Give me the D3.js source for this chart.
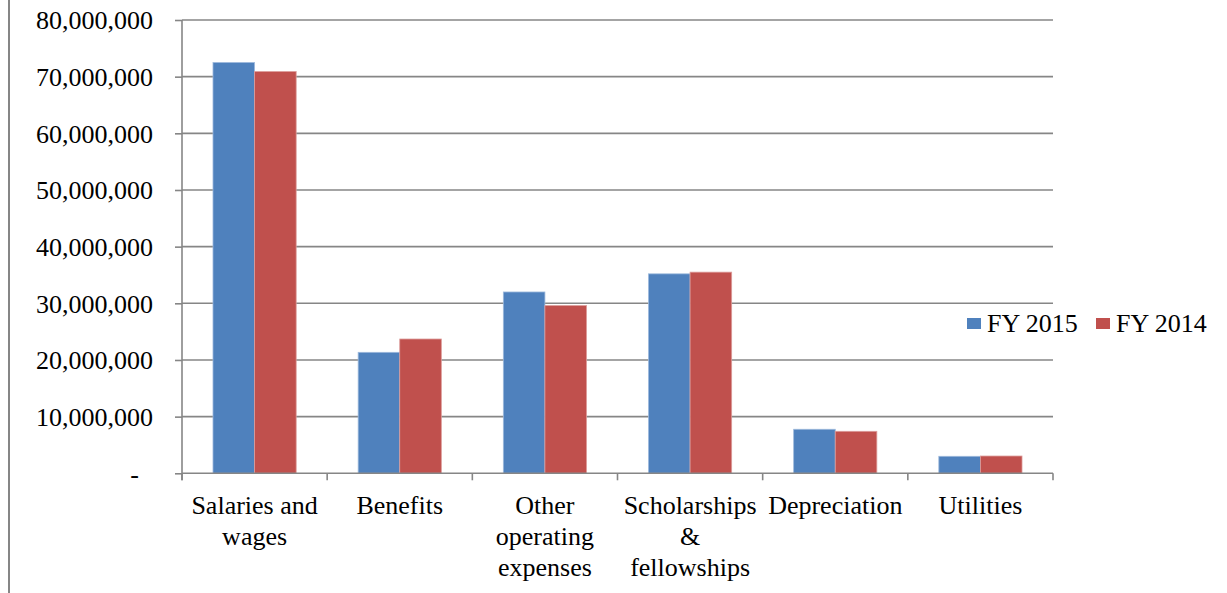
<!DOCTYPE html>
<html>
<head>
<meta charset="utf-8">
<script src="https://cdn.jsdelivr.net/npm/d3@7"></script>
<style>
  body { margin: 0; background: #fff; }
  text { font-family: "Liberation Serif", "Times New Roman", serif; fill: #000; }
</style>
</head>
<body>
<div id="chart"></div>
<script>
// chart data
var categories = [["Salaries and", "wages"], ["Benefits"], ["Other", "operating", "expenses"],
                  ["Scholarships", "&", "fellowships"], ["Depreciation"], ["Utilities"]];
var seriesNames = ["FY 2015", "FY 2014"];
var fy2015 = [72500000, 21350000, 32000000, 35200000, 7770000, 3000000];
var fy2014 = [70900000, 23700000, 29600000, 35500000, 7410000, 3050000];
var yTicks = [0, 10000000, 20000000, 30000000, 40000000, 50000000, 60000000, 70000000, 80000000];
var colors = ["#4F81BD", "#C0504D"];

var W = 1227, H = 593;
var plotLeft = 182, plotRight = 1053, plotTop = 20, plotBottom = 473.3;

var svg = d3.select("#chart").append("svg")
    .attr("width", W).attr("height", H);

// left border of the chart area
svg.append("line")
    .attr("x1", 9).attr("x2", 9).attr("y1", 0).attr("y2", H)
    .attr("stroke", "#868686").attr("stroke-width", 2);

var keys = categories.map(function(c) { return c.join(" "); });
var data = keys.map(function(k, i) { return {key: k, values: [fy2015[i], fy2014[i]]}; });

var step = (plotRight - plotLeft) / keys.length;
var gap = 0.427;
var x = d3.scaleBand().domain(keys).range([plotLeft, plotRight])
    .paddingInner(gap).paddingOuter(gap / 2);
var xs = d3.scaleBand().domain(seriesNames).range([0, x.bandwidth()]);
var y = d3.scaleLinear().domain([0, 80000000]).range([plotBottom, plotTop]);

// gridlines
svg.append("g").selectAll("line").data(yTicks.slice(1)).enter().append("line")
    .attr("x1", plotLeft).attr("x2", plotRight)
    .attr("y1", function(d) { return y(d); }).attr("y2", function(d) { return y(d); })
    .attr("stroke", "#868686").attr("stroke-width", 1.6);

// y axis
var yAxis = d3.axisLeft(y).tickValues(yTicks).tickSize(7).tickPadding(22)
    .tickFormat(function(d) { return d === 0 ? "-" : d3.format(",")(d); });
var gy = svg.append("g").attr("transform", "translate(" + plotLeft + ",0)").call(yAxis);
gy.select(".domain").remove();
gy.append("line").attr("x1", 0).attr("x2", 0).attr("y1", plotTop).attr("y2", plotBottom + 7)
    .attr("stroke", "#868686").attr("stroke-width", 1.6);
gy.selectAll(".tick line").attr("stroke", "#868686").attr("stroke-width", 1.6);
gy.selectAll(".tick text")
    .style("font-size", "26px")
    .attr("fill", "#000")
    .attr("dy", "0.34em")
    .attr("dx", function(d) { return d === 0 ? -14 : 0; });

// bars
var groups = svg.append("g").selectAll("g").data(data).enter().append("g")
    .attr("transform", function(d) { return "translate(" + x(d.key) + ",0)"; });
groups.selectAll("rect").data(function(d) {
        return d.values.map(function(v, i) { return {s: seriesNames[i], v: v, i: i}; });
    }).enter().append("rect")
    .attr("x", function(d) { return xs(d.s); })
    .attr("width", xs.bandwidth())
    .attr("y", function(d) { return y(d.v); })
    .attr("height", function(d) { return plotBottom - y(d.v); })
    .attr("fill", function(d) { return colors[d.i]; })
    .attr("stroke", function(d) { return d.i === 0 ? "#9db9dc" : "#dc9c9a"; })
    .attr("stroke-width", 0.8);

// x axis baseline and category ticks
svg.append("line").attr("x1", plotLeft).attr("x2", plotRight)
    .attr("y1", plotBottom).attr("y2", plotBottom)
    .attr("stroke", "#868686").attr("stroke-width", 1.6);
var tickXs = keys.map(function(k) { return x(k) + x.bandwidth() / 2 - step / 2; });
tickXs.push(plotRight);
svg.append("g").selectAll("line").data(tickXs).enter().append("line")
    .attr("x1", function(d) { return d; }).attr("x2", function(d) { return d; })
    .attr("y1", plotBottom).attr("y2", plotBottom + 7)
    .attr("stroke", "#868686").attr("stroke-width", 1.6);

// category labels
var labels = svg.append("g").selectAll("text").data(categories).enter().append("text")
    .attr("text-anchor", "middle")
    .style("font-size", "26px")
    .attr("transform", function(d, i) { return "translate(" + (x(keys[i]) + x.bandwidth() / 2) + ",514)"; });
labels.selectAll("tspan").data(function(d) { return d; }).enter().append("tspan")
    .attr("x", 0)
    .attr("y", function(d, i) { return i * 31; })
    .text(function(d) { return d; });

// legend
var legendX = [967, 1096];
var legend = svg.append("g").selectAll("g").data(seriesNames).enter().append("g")
    .attr("transform", function(d, i) { return "translate(" + legendX[i] + ",318)"; });
legend.append("rect").attr("width", 14).attr("height", 11)
    .attr("fill", function(d, i) { return colors[i]; });
legend.append("text").attr("x", 20).attr("y", 14)
    .style("font-size", "26px")
    .text(function(d) { return d; });
</script>
</body>
</html>
